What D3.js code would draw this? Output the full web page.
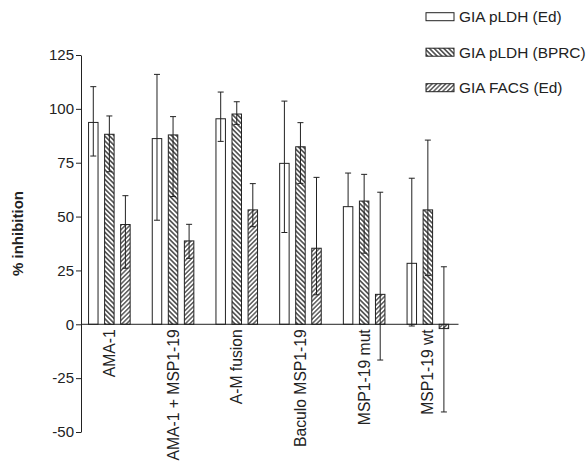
<!DOCTYPE html>
<html>
<head>
<meta charset="utf-8">
<style>
  body { margin: 0; background: #fff; }
  svg { font-family: "Liberation Sans", Arial, Helvetica, sans-serif; }
</style>
</head>
<body>
<svg width="588" height="463"></svg>
<script src="https://d3js.org/d3.v7.min.js"></script>
<script>
// groups on the x axis
const groups = ["AMA-1", "AMA-1 + MSP1-19", "A-M fusion", "Baculo MSP1-19", "MSP1-19 mut", "MSP1-19 wt"];
const seriesNames = ["GIA pLDH (Ed)", "GIA pLDH (BPRC)", "GIA FACS (Ed)"];

// % inhibition means, and error bar ends (upper / lower)
const ldhEd      = [93.7, 86.2, 95.4, 74.7, 54.6, 28.3];
const ldhEdHi    = [110.3, 116, 107.8, 103.6, 70.2, 67.8];
const ldhEdLo    = [78.1, 48.3, 84.9, 42.6, null, -0.8];
const ldhBprc    = [88.2, 87.9, 97.6, 82.4, 57.2, 53.1];
const ldhBprcHi  = [96.7, 96.4, 103.3, 93.6, 69.6, 85.5];
const ldhBprcLo  = [70.8, 59.3, 92.8, 65.4, 33, 22.7];
const facsEd     = [46.3, 38.7, 53.1, 35.3, 13.9, -2];
const facsEdHi   = [59.7, 46.4, 65.3, 68.2, 61.3, 26.7];
const facsEdLo   = [26, 30.6, 45.3, 13.7, -16.6, -40.7];

const yTicks = [-50, -25, 0, 25, 50, 75, 100, 125];

const svg = d3.select("svg");
const ink = "#222";

const x = d3.scaleBand().domain(groups).range([77.5, 459.7]);
const y = d3.scaleLinear().domain([-50, 125]).range([432, 55]);
const sub = d3.scaleBand().domain([0, 1, 2]).range([-24, 24]).paddingInner(0.41).paddingOuter(0.2);

// hatch patterns
const defs = svg.append("defs");
function hatch(id, angle, gap, w) {
  const p = defs.append("pattern")
    .attr("id", id)
    .attr("patternUnits", "userSpaceOnUse")
    .attr("width", gap).attr("height", gap)
    .attr("patternTransform", `rotate(${angle})`);
  p.append("rect").attr("width", gap).attr("height", gap).attr("fill", "#fff");
  p.append("line")
    .attr("x1", gap / 2).attr("x2", gap / 2)
    .attr("y1", 0).attr("y2", gap)
    .attr("stroke", ink).attr("stroke-width", w);
}
hatch("hBprc", -45, 3.4, 1.3);
hatch("hFacs", 45, 3.2, 1.1);
const fills = ["#fff", "url(#hBprc)", "url(#hFacs)"];

const series = [
  {v: ldhEd, hi: ldhEdHi, lo: ldhEdLo},
  {v: ldhBprc, hi: ldhBprcHi, lo: ldhBprcLo},
  {v: facsEd, hi: facsEdHi, lo: facsEdLo}
];

const rows = [];
groups.forEach((g, gi) => {
  series.forEach((s, si) => {
    rows.push({g, si, v: s.v[gi], hi: s.hi[gi], lo: s.lo[gi]});
  });
});

// bars
svg.append("g")
  .selectAll("rect")
  .data(rows)
  .join("rect")
  .attr("x", d => x(d.g) + x.bandwidth() / 2 + sub(d.si))
  .attr("width", sub.bandwidth())
  .attr("y", d => y(Math.max(0, d.v)))
  .attr("height", d => Math.abs(y(d.v) - y(0)))
  .attr("fill", d => fills[d.si])
  .attr("stroke", ink)
  .attr("stroke-width", 1);

// error bars
const cx = d => x(d.g) + x.bandwidth() / 2 + sub(d.si) + sub.bandwidth() / 2;
const eb = svg.append("g").attr("stroke", ink).attr("stroke-width", 1);
eb.selectAll("line.stem")
  .data(rows)
  .join("line")
  .attr("class", "stem")
  .attr("x1", cx).attr("x2", cx)
  .attr("y1", d => y(d.hi))
  .attr("y2", d => y(d.lo == null ? d.v : d.lo));
eb.selectAll("line.capHi")
  .data(rows)
  .join("line")
  .attr("class", "capHi")
  .attr("x1", d => cx(d) - 3).attr("x2", d => cx(d) + 3)
  .attr("y1", d => y(d.hi)).attr("y2", d => y(d.hi));
eb.selectAll("line.capLo")
  .data(rows.filter(d => d.lo != null))
  .join("line")
  .attr("class", "capLo")
  .attr("x1", d => cx(d) - 3).attr("x2", d => cx(d) + 3)
  .attr("y1", d => y(d.lo)).attr("y2", d => y(d.lo));

// y axis
const yAxis = svg.append("g")
  .attr("transform", "translate(81,0)")
  .call(d3.axisLeft(y).tickValues(yTicks).tickFormat(d => String(d))
    .tickSize(5).tickPadding(2).tickSizeOuter(0));
yAxis.select(".domain").attr("stroke", ink);
yAxis.selectAll(".tick line").attr("stroke", ink);
yAxis.selectAll(".tick text")
  .attr("fill", ink)
  .attr("font-size", 15)
  .attr("font-family", "Liberation Sans, Arial, sans-serif");

// zero line
svg.append("line")
  .attr("x1", 81).attr("x2", 458.5)
  .attr("y1", y(0)).attr("y2", y(0))
  .attr("stroke", ink).attr("stroke-width", 1);

// category labels
svg.append("g")
  .selectAll("text")
  .data(groups)
  .join("text")
  .attr("transform", d => `translate(${x(d) + x.bandwidth() / 2},${y(0) + 5}) rotate(-90)`)
  .attr("text-anchor", "end")
  .attr("dy", "0.35em")
  .attr("font-size", 15.7)
  .attr("fill", ink)
  .text(d => d);

// y label
svg.append("text")
  .attr("transform", "translate(23,233.5) rotate(-90)")
  .attr("text-anchor", "middle")
  .attr("font-size", 15)
  .attr("font-weight", "bold")
  .attr("fill", ink)
  .text("% inhibition");

// legend
const lg = svg.append("g")
  .selectAll("g")
  .data(seriesNames)
  .join("g")
  .attr("transform", (d, i) => `translate(426,${16.7 + i * 35.5})`);
lg.append("rect")
  .attr("x", 0).attr("y", -4)
  .attr("width", 28).attr("height", 8)
  .attr("fill", (d, i) => fills[i])
  .attr("stroke", ink);
lg.append("text")
  .attr("x", 33)
  .attr("dy", "0.36em")
  .attr("font-size", 15.4)
  .attr("fill", ink)
  .text(d => d);
</script>
</body>
</html>
